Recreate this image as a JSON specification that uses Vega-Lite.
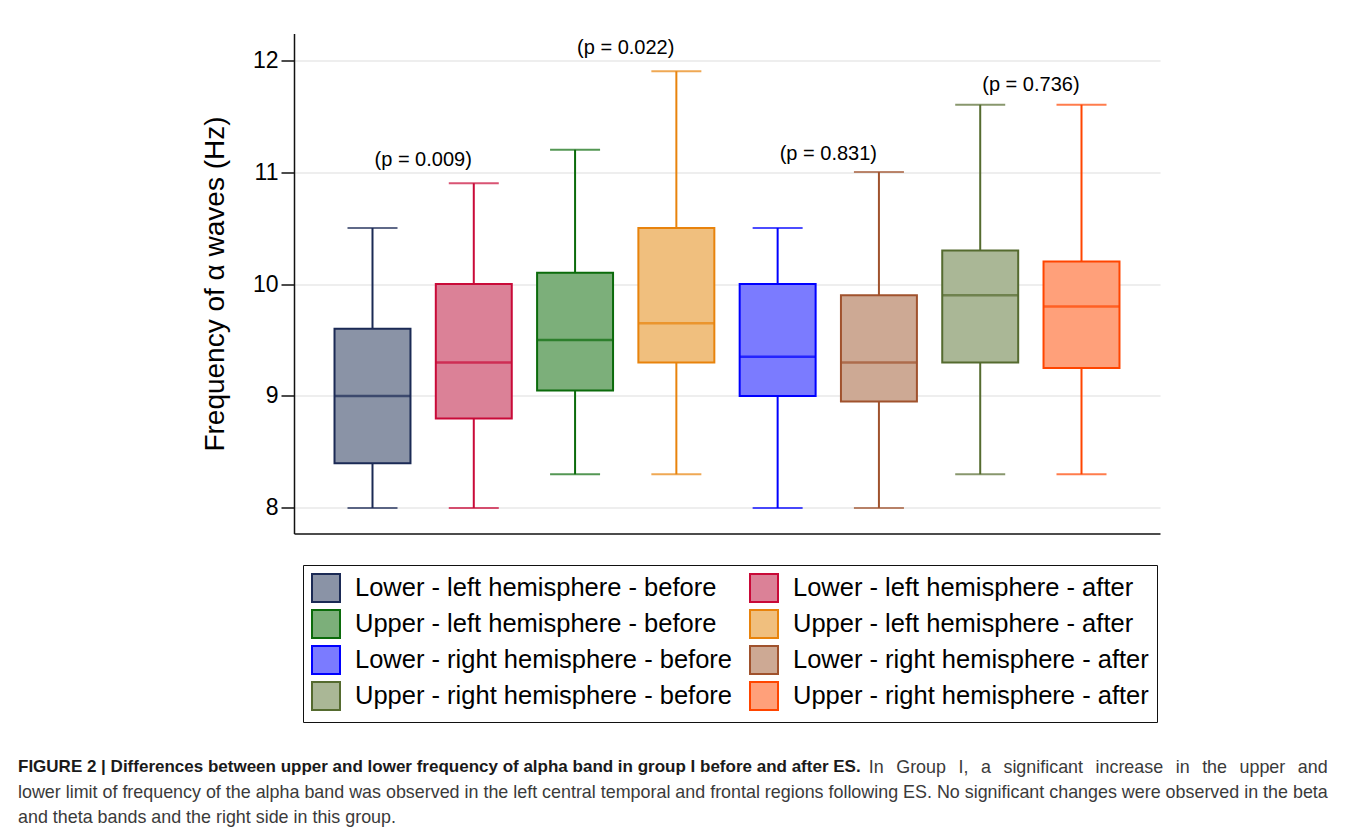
{
  "$schema": "https://vega.github.io/schema/vega-lite/v6.json",
  "width": 866,
  "height": 500,
  "autosize": {"type": "none"},
  "padding": {"left": 294, "top": 33.5, "right": 198, "bottom": 305.5},
  "background": "white",
  "config": {
    "view": {"stroke": null, "fill": "white"},
    "font": "Liberation Sans",
    "axisY": {
      "domainColor": "#111", "domainWidth": 1.5,
      "tickColor": "#111", "tickWidth": 1.5, "tickSize": 13,
      "labelFont": "Liberation Sans", "labelFontSize": 23, "labelColor": "#000", "labelPadding": 3,
      "titleFont": "Liberation Sans", "titleFontSize": 28, "titleFontWeight": "normal", "titleColor": "#000", "titlePadding": 23,
      "gridColor": "#e8e8e8", "gridWidth": 1.5
    },
    "axisX": {"domainColor": "#111", "domainWidth": 1.5, "ticks": false, "labels": false, "grid": false},
    "legend": {
      "labelFont": "Liberation Sans", "labelFontSize": 25.5, "labelColor": "#000", "labelLimit": 600,
      "symbolType": "square", "symbolSize": 784, "symbolStrokeWidth": 2, "symbolOpacity": 1,
      "labelOffset": 14, "rowPadding": 0, "columnPadding": 13, "padding": 8,
      "strokeColor": "#111", "fillColor": "white"
    }
  },
  "title": {
    "text": "FIGURE 2 | Differences between upper and lower frequency of alpha band in group I before and after ES.",
    "subtitle": [
      "\u200b\u2003\u2003\u2003\u2003\u2003\u2003\u2003\u2003\u2003\u2003\u2003\u2003\u2003\u2003\u2003\u2003\u2003\u2003\u2003\u2003\u2003\u2003\u2003\u2003\u2003\u2003\u2003\u2003\u2003\u2003\u2003\u2003\u2003\u2003\u2003\u2003\u2003\u2003\u2003\u2003\u2003\u2003\u2003\u2003\u2003\u2003\u2003\u00a0\u00a0In\u2002\u2009Group\u2002\u2009I,\u2002\u2009a\u2002\u2009significant\u2002\u2009increase\u2002\u2009in\u2002\u2009the\u2002\u2009upper\u2002\u2009and",
      "lower limit of frequency of the alpha band was observed in the left central temporal and frontal regions following ES. No significant changes were observed in the beta",
      "and theta bands and the right side in this group."
    ],
    "orient": "bottom",
    "anchor": "start",
    "frame": "group",
    "dx": -276,
    "offset": 36,
    "font": "Liberation Sans",
    "fontSize": 17,
    "fontWeight": "bold",
    "color": "#1a1a1a",
    "subtitleFont": "Liberation Sans",
    "subtitleFontSize": 17.9,
    "subtitleColor": "#3a3a3a",
    "subtitleLineHeight": 25,
    "subtitlePadding": -17
  },
  "datasets": {
    "boxes": [
      {"group": "Lower - left hemisphere - before", "min": 8.0, "q1": 8.4, "median": 9.0, "q3": 9.6, "max": 10.5},
      {"group": "Lower - left hemisphere - after", "min": 8.0, "q1": 8.8, "median": 9.3, "q3": 10.0, "max": 10.9},
      {"group": "Upper - left hemisphere - before", "min": 8.3, "q1": 9.05, "median": 9.5, "q3": 10.1, "max": 11.2},
      {"group": "Upper - left hemisphere - after", "min": 8.3, "q1": 9.3, "median": 9.65, "q3": 10.5, "max": 11.9},
      {"group": "Lower - right hemisphere - before", "min": 8.0, "q1": 9.0, "median": 9.35, "q3": 10.0, "max": 10.5},
      {"group": "Lower - right hemisphere - after", "min": 8.0, "q1": 8.95, "median": 9.3, "q3": 9.9, "max": 11.0},
      {"group": "Upper - right hemisphere - before", "min": 8.3, "q1": 9.3, "median": 9.9, "q3": 10.3, "max": 11.6},
      {"group": "Upper - right hemisphere - after", "min": 8.3, "q1": 9.25, "median": 9.8, "q3": 10.2, "max": 11.6}
    ],
    "pvals": [
      {"after": "Lower - left hemisphere - after", "label": "(p = 0.009)", "y": 11.11},
      {"after": "Upper - left hemisphere - after", "label": "(p = 0.022)", "y": 12.107},
      {"after": "Lower - right hemisphere - after", "label": "(p = 0.831)", "y": 11.16},
      {"after": "Upper - right hemisphere - after", "label": "(p = 0.736)", "y": 11.777}
    ]
  },
  "encoding": {
    "x": {
      "field": "group", "type": "nominal", "sort": null,
      "scale": {
        "type": "band", "paddingInner": 0.25, "paddingOuter": 0.4,
        "domain": [
          "Lower - left hemisphere - before", "Lower - left hemisphere - after",
          "Upper - left hemisphere - before", "Upper - left hemisphere - after",
          "Lower - right hemisphere - before", "Lower - right hemisphere - after",
          "Upper - right hemisphere - before", "Upper - right hemisphere - after"
        ]
      },
      "axis": {"title": null, "labels": false, "ticks": false, "grid": false}
    }
  },
  "layer": [
    {
      "data": {"name": "boxes"},
      "mark": {"type": "rule", "strokeWidth": 2},
      "encoding": {
        "y": {
          "field": "min", "type": "quantitative",
          "scale": {"domain": [7.772, 12.237], "nice": false, "zero": false},
          "axis": {"title": "Frequency of α waves (Hz)", "values": [8, 9, 10, 11, 12], "grid": true, "format": "d"}
        },
        "y2": {"field": "max"},
        "stroke": {
          "field": "group", "type": "nominal",
          "scale": {
            "domain": [
              "Lower - left hemisphere - before", "Upper - left hemisphere - before",
              "Lower - right hemisphere - before", "Upper - right hemisphere - before",
              "Lower - left hemisphere - after", "Upper - left hemisphere - after",
              "Lower - right hemisphere - after", "Upper - right hemisphere - after"
            ],
            "range": ["#1b2a55", "#0b6b0b", "#0000ff", "#556b2f", "#c90a38", "#e8830c", "#a0522d", "#ff4500"]
          },
          "legend": {"orient": "none", "legendX": 9, "legendY": 531.5, "columns": 2, "title": null}
        }
      }
    },
    {
      "data": {"name": "boxes"},
      "mark": {"type": "bar", "strokeWidth": 2, "fillOpacity": 1},
      "encoding": {
        "y": {"field": "q1", "type": "quantitative"},
        "y2": {"field": "q3"},
        "fill": {
          "field": "group", "type": "nominal",
          "scale": {
            "domain": [
              "Lower - left hemisphere - before", "Upper - left hemisphere - before",
              "Lower - right hemisphere - before", "Upper - right hemisphere - before",
              "Lower - left hemisphere - after", "Upper - left hemisphere - after",
              "Lower - right hemisphere - after", "Upper - right hemisphere - after"
            ],
            "range": ["#8a93a6", "#7caf7a", "#7b7bff", "#aab796", "#db8197", "#f0bf7e", "#cda994", "#ffa07a"]
          },
          "legend": {"orient": "none", "legendX": 9, "legendY": 531.5, "columns": 2, "title": null}
        },
        "stroke": {"field": "group", "type": "nominal", "legend": {"orient": "none", "legendX": 9, "legendY": 531.5, "columns": 2, "title": null}}
      }
    },
    {
      "data": {"name": "boxes"},
      "mark": {"type": "tick", "thickness": 2.5, "size": 76},
      "encoding": {
        "y": {"field": "median", "type": "quantitative"},
        "color": {
          "field": "group", "type": "nominal", "legend": null,
          "scale": {
            "domain": [
              "Lower - left hemisphere - before", "Upper - left hemisphere - before",
              "Lower - right hemisphere - before", "Upper - right hemisphere - before",
              "Lower - left hemisphere - after", "Upper - left hemisphere - after",
              "Lower - right hemisphere - after", "Upper - right hemisphere - after"
            ],
            "range": ["#1b2a55", "#0b6b0b", "#0000ff", "#556b2f", "#c90a38", "#e8830c", "#a0522d", "#ff4500"]
          }
        }
      }
    },
    {
      "data": {"name": "boxes"},
      "mark": {"type": "tick", "thickness": 2, "size": 50},
      "encoding": {
        "y": {"field": "min", "type": "quantitative"},
        "color": {"field": "group", "type": "nominal", "legend": null}
      }
    },
    {
      "data": {"name": "boxes"},
      "mark": {"type": "tick", "thickness": 2, "size": 50},
      "encoding": {
        "y": {"field": "max", "type": "quantitative"},
        "color": {"field": "group", "type": "nominal", "legend": null}
      }
    },
    {
      "data": {"name": "pvals"},
      "mark": {"type": "text", "dx": -50.6, "fontSize": 20, "font": "Liberation Sans", "color": "#000", "baseline": "middle"},
      "encoding": {
        "x": {"field": "after", "type": "nominal"},
        "y": {"field": "y", "type": "quantitative"},
        "text": {"field": "label"}
      }
    }
  ]
}
